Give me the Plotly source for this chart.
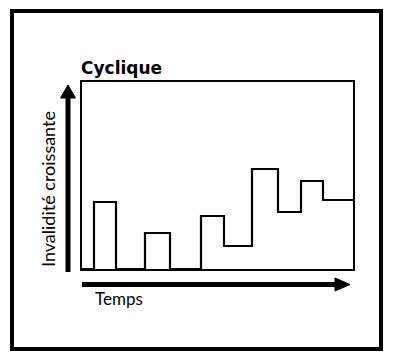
import plotly.graph_objects as go

# Data: time breakpoints and invalidity level per step
temps = [0, 1.2, 3.4, 6.3, 8.8, 11.9, 14.2, 17.0, 19.6, 21.9, 24.1, 27.1]
invalidite = [0, 6.7, 0, 3.6, 0, 5.3, 2.3, 10.0, 5.7, 8.8, 6.9, 6.9]

W, H = 393, 362
L, R, T, B = 82, 353, 82, 269  # plot box in pixels

def px(x):
    return (x - L) / (R - L)

def py(y):
    return (B - y) / (B - T)

fig = go.Figure()
fig.add_trace(go.Scatter(
    x=temps, y=invalidite, mode="lines", line_shape="hv",
    line=dict(color="black", width=2.2), hoverinfo="skip", showlegend=False,
))

shapes = []
# outer frame
shapes.append(dict(type="rect", xref="paper", yref="paper",
                   x0=px(12), x1=px(381), y0=py(349), y1=py(11),
                   line=dict(color="black", width=4), fillcolor="rgba(0,0,0,0)"))
# y arrow shaft + head
shapes.append(dict(type="line", xref="paper", yref="paper",
                   x0=px(68), x1=px(68), y0=py(272), y1=py(95),
                   line=dict(color="black", width=5)))
shapes.append(dict(type="path", xref="paper", yref="paper",
                   path=f"M {px(60.5)} {py(98)} L {px(68)} {py(85)} L {px(75.5)} {py(98)} Z",
                   fillcolor="black", line=dict(color="black", width=1)))
# x arrow shaft + head
shapes.append(dict(type="line", xref="paper", yref="paper",
                   x0=px(82), x1=px(340), y0=py(284.5), y1=py(284.5),
                   line=dict(color="black", width=5)))
shapes.append(dict(type="path", xref="paper", yref="paper",
                   path=f"M {px(335)} {py(278)} L {px(350)} {py(284.5)} L {px(335)} {py(291)} Z",
                   fillcolor="black", line=dict(color="black", width=1)))

annotations = [
    dict(text="<b>Cyclique</b>", xref="paper", yref="paper", x=px(79), y=py(80),
         xanchor="left", yanchor="bottom", showarrow=False,
         font=dict(family="DejaVu Sans", size=17, color="black")),
    dict(text="Temps", xref="paper", yref="paper", x=px(93), y=py(286),
         xanchor="left", yanchor="top", showarrow=False,
         font=dict(family="Lato", size=17, color="black")),
    dict(text="Invalidité croissante", xref="paper", yref="paper", x=px(48), y=py(189),
         xanchor="center", yanchor="middle", textangle=-90, showarrow=False,
         font=dict(family="Lato", size=18, color="black")),
]

fig.update_layout(
    width=W, height=H,
    margin=dict(l=L, r=W - R, t=T, b=H - B, pad=0),
    paper_bgcolor="white", plot_bgcolor="white",
    shapes=shapes, annotations=annotations,
    xaxis=dict(range=[0, 27.1], showgrid=False, zeroline=False, showticklabels=False,
               ticks="", showline=True, linecolor="black", linewidth=2, mirror=True),
    yaxis=dict(range=[0, 18.7], showgrid=False, zeroline=False, showticklabels=False,
               ticks="", showline=True, linecolor="black", linewidth=2, mirror=True),
)

fig.write_html("out.html", config={"displayModeBar": False},
               post_script="document.body.style.margin='0';document.body.style.overflow='hidden';")
